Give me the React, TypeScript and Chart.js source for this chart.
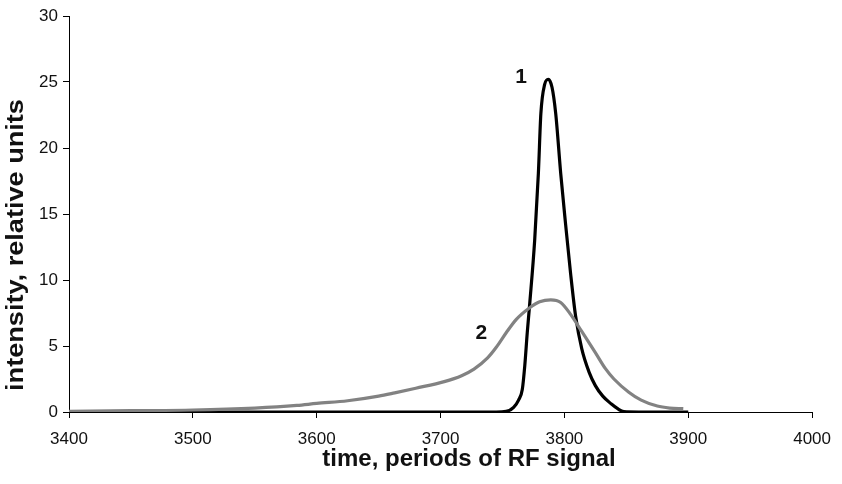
import React, { useEffect, useRef } from "react";
import { Chart, registerables } from "chart.js";

Chart.register(...registerables);

// Curve 1 (black)
const t1 = [3400, 3500, 3600, 3700, 3745, 3753, 3759, 3763, 3766, 3768, 3770, 3772, 3776, 3779, 3781, 3784, 3787, 3790, 3793, 3797, 3801, 3805, 3809, 3814, 3820, 3825, 3831, 3838, 3843, 3848, 3860, 3900];
const v1 = [0, 0, 0, 0, 0, 0.05, 0.35, 0.9, 1.7, 3.5, 6, 8.2, 13, 18.1, 22.6, 24.8, 25.2, 24.6, 22.6, 18.1, 14.2, 10.5, 7.3, 4.8, 3.0, 2.0, 1.2, 0.6, 0.25, 0.03, 0, 0];

// Curve 2 (grey)
const t2 = [3400, 3450, 3500, 3550, 3584, 3600, 3625, 3650, 3663, 3680, 3703, 3717, 3727, 3738, 3745, 3753, 3761, 3772, 3780, 3789, 3797, 3805, 3814, 3825, 3833, 3840, 3852, 3862, 3875, 3885, 3896];
const v2 = [0.05, 0.1, 0.15, 0.3, 0.5, 0.65, 0.85, 1.2, 1.45, 1.8, 2.3, 2.75, 3.25, 4.1, 4.9, 6.0, 7.0, 7.9, 8.35, 8.5, 8.3, 7.4, 6.1, 4.5, 3.3, 2.5, 1.5, 0.9, 0.45, 0.3, 0.25];

// Curve labels
const curveLabels = ["1", "2"];
const labelX = [3765, 3733];
const labelY = [25.4, 6.0];

const xTitle = "time, periods of RF signal";
const yTitle = "intensity, relative units";

const FONT = "'Liberation Sans', Arial, sans-serif";

const textPlugin = {
  id: "textPlugin",
  afterDraw(chart: any) {
    const { ctx, scales } = chart;
    const xs = scales.x;
    const ys = scales.y;
    ctx.save();
    ctx.fillStyle = "#111";
    ctx.textAlign = "center";
    ctx.textBaseline = "middle";
    ctx.font = `bold 21px ${FONT}`;
    curveLabels.forEach((l, i) => {
      ctx.fillText(l, xs.getPixelForValue(labelX[i]), ys.getPixelForValue(labelY[i]));
    });
    // x title
    ctx.font = `bold 24px ${FONT}`;
    ctx.fillText(xTitle, 469, 459);
    // y title (slightly stretched along its length)
    ctx.translate(16, 245);
    ctx.rotate(-Math.PI / 2);
    ctx.scale(1.13, 1);
    ctx.fillText(yTitle, 0, 0);
    ctx.restore();
  },
};

export default function App() {
  const ref = useRef<HTMLCanvasElement | null>(null);
  useEffect(() => {
    if (!ref.current) return;
    const chart = new Chart(ref.current, {
      type: "line",
      data: {
        datasets: [
          {
            label: "2",
            data: t2.map((t, i) => ({ x: t, y: v2[i] })),
            borderColor: "#828282",
            borderWidth: 3.2,
            pointRadius: 0,
            cubicInterpolationMode: "monotone",
            fill: false,
          },
          {
            label: "1",
            data: t1.map((t, i) => ({ x: t, y: v1[i] })),
            borderColor: "#000",
            borderWidth: 3.2,
            pointRadius: 0,
            cubicInterpolationMode: "monotone",
            fill: false,
          },
        ],
      },
      options: {
        animation: false,
        responsive: true,
        maintainAspectRatio: false,
        layout: { padding: { top: 16, right: 19, left: 0, bottom: 0 } },
        plugins: { legend: { display: false }, tooltip: { enabled: false } },
        scales: {
          x: {
            type: "linear",
            min: 3400,
            max: 4000,
            ticks: {
              stepSize: 100,
              font: { family: FONT, size: 17 },
              color: "#111",
              padding: 11,
              callback: (v: any) => String(v),
            },
            grid: { drawOnChartArea: false, drawTicks: true, tickLength: 6, color: "#000", lineWidth: 1 },
            border: { display: true, color: "#000", width: 1 },
            afterFit: (s: any) => {
              s.height = 72;
            },
          },
          y: {
            min: 0,
            max: 30,
            ticks: { stepSize: 5, font: { family: FONT, size: 17 }, color: "#111", padding: 5 },
            grid: { drawOnChartArea: false, drawTicks: true, tickLength: 6, color: "#000", lineWidth: 1 },
            border: { display: true, color: "#000", width: 1 },
            afterFit: (s: any) => {
              s.width = 69;
            },
          },
        },
      },
      plugins: [textPlugin],
    });
    return () => chart.destroy();
  }, []);
  return (
    <div style={{ position: "fixed", left: 0, top: 0, width: 842, height: 484, background: "#fff" }}>
      <canvas ref={ref} />
    </div>
  );
}
